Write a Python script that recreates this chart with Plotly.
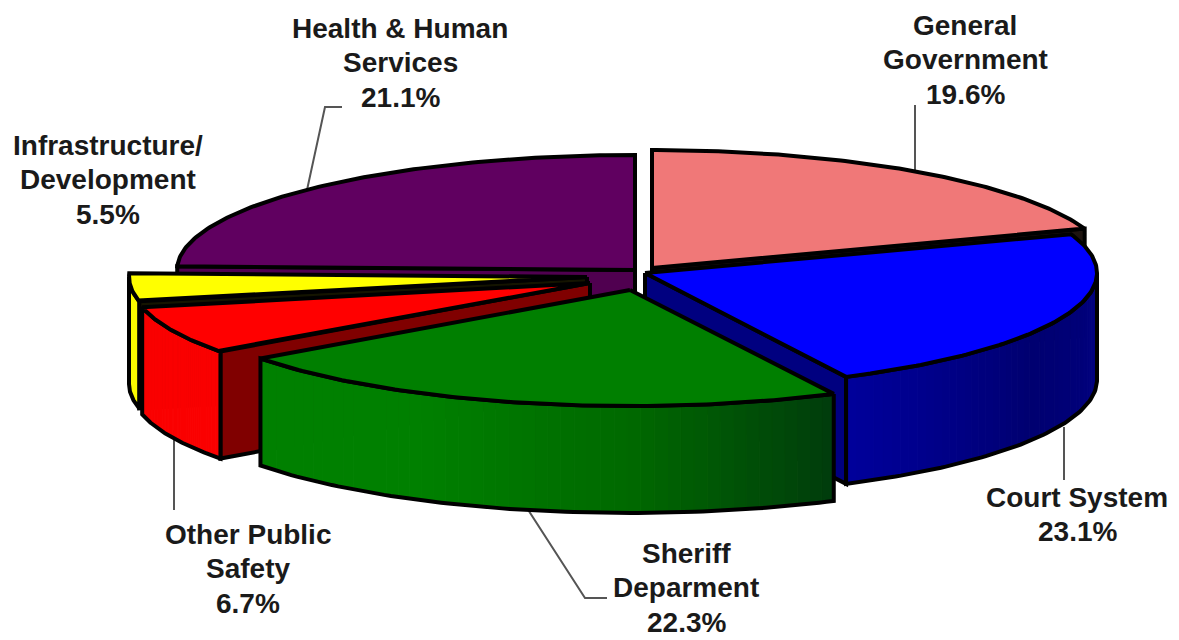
import numpy as np
import plotly.graph_objects as go

# Budget shares, clockwise from twelve o'clock
categories = ["General|Government", "Court System", "Sheriff|Deparment",
              "Other Public|Safety", "Infrastructure/|Development",
              "Health & Human|Services"]
shares = [19.6, 23.1, 22.3, 6.7, 5.5, 21.1]

top_colors = ["#F07878", "#0000FF", "#007F00", "#FF0000", "#FFFF00", "#600060"]
face_colors = ["#1E1410", "#000080", "#004000", "#800000", "#141400", "#500050"]
# Shading ramps of the outer walls, listed clockwise
wall_ramps = [[(120, 60, 60)] * 2,
              [(0, 0, 130), (0, 0, 112), (0, 0, 155)],
              [(0, 60, 12), (0, 105, 0), (0, 128, 0), (0, 128, 0)],
              [(250, 0, 0)] * 2,
              [(250, 250, 0)] * 2,
              [(80, 0, 80)] * 2]

# Exploded position and radii of every slice, in plot units
apex_x = [652, 645, 630, 590, 587, 635]
apex_y = [268, 273, 290, 283, 277, 270]
radius_x = [459, 452, 458, 458, 458, 458]
radius_y = [118, 116, 116, 116, 116, 115]
DEPTH = 107
EDGE = 4

# Centre of each label's first line, and the spacing of its lines
label_x = [965, 1077, 686, 248, 108, 400]
label_y = [25, 497, 553, 534, 145, 28]
LINE_STEP = 34.5

leaders = [[(915, 105), (915, 175)],
           [(1064, 427), (1064, 480)],
           [(525, 505), (585, 598), (607, 598)],
           [(174, 430), (174, 510)],
           [(342, 107), (325, 107), (307, 190)]]


def foreshorten(angle):
    """Perspective compression of pie angles towards the far left of the disc."""
    return np.interp(angle, [0, 263, 283, 360], [0, 258.3, 272, 360])


def ramp_color(stops, t):
    pos = t * (len(stops) - 1)
    i = min(int(pos), len(stops) - 2)
    f = pos - i
    rgb = [stops[i][c] + (stops[i + 1][c] - stops[i][c]) * f for c in range(3)]
    return "rgb({:.0f},{:.0f},{:.0f})".format(*rgb)


fig = go.Figure()


def poly(xs, ys, fill=None, line="black", width=EDGE, closed=True):
    xs, ys = list(xs), list(ys)
    if closed:
        xs.append(xs[0])
        ys.append(ys[0])
    fig.add_trace(go.Scatter(
        x=xs, y=ys, mode="lines", hoverinfo="skip", showlegend=False,
        fill="toself" if fill else "none", fillcolor=fill,
        line=dict(color=line, width=width, shape="linear"),
    ))


# Leader lines sit underneath the pie
for path in leaders:
    poly([p[0] for p in path], [p[1] for p in path], line="#555555", width=2, closed=False)

fractions = np.array(shares) / sum(shares)
bounds = foreshorten(np.concatenate([[0], np.cumsum(fractions)]) * 360)


def rim(i, theta):
    rad = np.radians(theta)
    return apex_x[i] + radius_x[i] * np.sin(rad), apex_y[i] - radius_y[i] * np.cos(rad)


def draw_slice(i):
    start, end = bounds[i], bounds[i + 1]
    # Cut faces that look towards the viewer
    for edge_angle, visible in ((start, np.sin(np.radians(start)) < -1e-6),
                                (end, np.sin(np.radians(end)) > 1e-6)):
        if visible:
            ex, ey = rim(i, edge_angle)
            poly([apex_x[i], ex, ex, apex_x[i]],
                 [apex_y[i], ey, ey + DEPTH, apex_y[i] + DEPTH], fill=face_colors[i])
    # Outer wall, only on the near half of the disc
    lo, hi = max(start, 90), min(end, 270)
    if hi > lo:
        strips = 48
        edges = np.linspace(lo, hi, strips + 1)
        for k in range(strips):
            seg = np.linspace(edges[k], edges[k + 1], 4)
            sx, sy = rim(i, seg)
            color = ramp_color(wall_ramps[i], (k + 0.5) / strips)
            poly(np.r_[sx, sx[::-1]], np.r_[sy, sy[::-1] + DEPTH], fill=color, line=color, width=1)
        arc = np.linspace(lo, hi, 80)
        ax, ay = rim(i, arc)
        poly(np.r_[ax, ax[::-1]], np.r_[ay, ay[::-1] + DEPTH])
    # Top surface
    arc = np.linspace(start, end, 120)
    tx, ty = rim(i, arc)
    poly(np.r_[apex_x[i], tx], np.r_[apex_y[i], ty], fill=top_colors[i])


# Painter's order, far slices first
for idx in (5, 0, 4, 3, 1, 2):
    draw_slice(idx)

for name, share, lx, ly in zip(categories, shares, label_x, label_y):
    for n, text in enumerate(name.split("|") + [f"{share:.1f}%"]):
        fig.add_annotation(x=lx, y=ly + n * LINE_STEP, xref="x", yref="y", text=text,
                           showarrow=False, align="center", xanchor="center", yanchor="middle",
                           font=dict(family="Liberation Sans", size=28, color="#1A1A1A", weight="bold"))

fig.update_layout(
    width=1179, height=640, margin=dict(l=0, r=0, t=0, b=0),
    paper_bgcolor="white", plot_bgcolor="white", showlegend=False,
    xaxis=dict(range=[0, 1179], visible=False, fixedrange=True),
    yaxis=dict(range=[640, 0], visible=False, fixedrange=True),
)
fig.write_html("out.html", config={"displayModeBar": False})
